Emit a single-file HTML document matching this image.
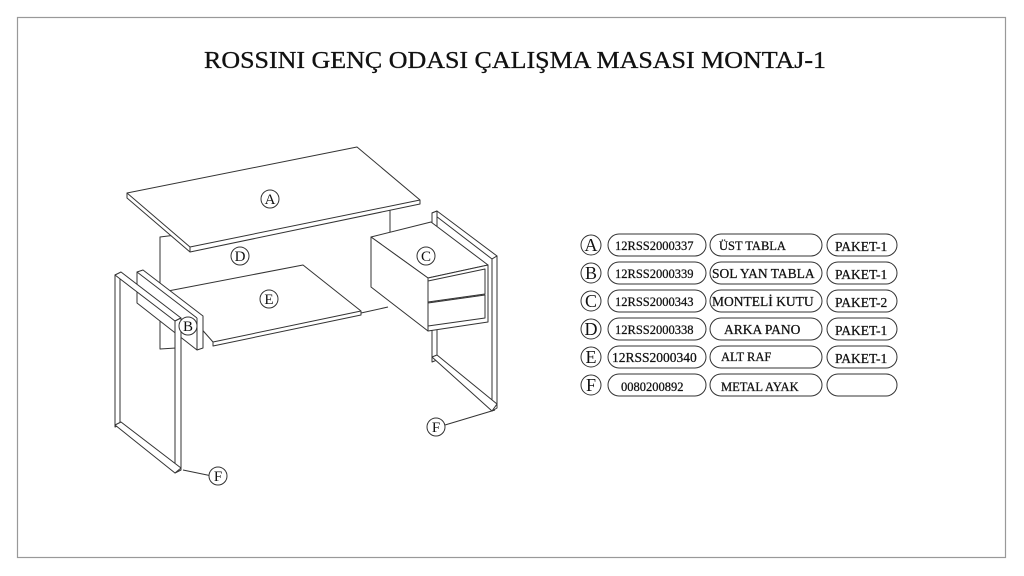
<!DOCTYPE html>
<html><head><meta charset="utf-8"><style>
html,body{margin:0;padding:0;background:#fff;width:1024px;height:576px;overflow:hidden}
svg{display:block}
text{font-family:"Liberation Serif",serif;fill:#111}
</style></head><body>
<svg width="1024" height="576" viewBox="0 0 1024 576" xmlns="http://www.w3.org/2000/svg">
<rect x="17.5" y="17.5" width="988" height="540" fill="#fff" stroke="#999" stroke-width="1.2"/>
<text x="204" y="68" font-size="24" textLength="622" lengthAdjust="spacingAndGlyphs" stroke="#111" stroke-width="0.3">ROSSINI GENÇ ODASI ÇALIŞMA MASASI MONTAJ-1</text>

<g fill="#fff" stroke="#333" stroke-width="1" stroke-linejoin="round">
<!-- D back panel (mostly hidden) -->
<polyline points="176,348 160,349 160,237 200,232" fill="none"/>
<line x1="390" y1="232" x2="390" y2="207"/>
<!-- left leg back -->
<polygon points="115,275 120,273 120,425 115,427"/>
<!-- E shelf -->
<polygon points="168,291 303,265 361,311 361,315 213,346 213,342"/>
<line x1="213" y1="342" x2="361" y2="311"/>
<!-- B side panel -->
<polygon points="137,272 143,270 203,316 203,348 197,350 137,303"/>
<line x1="197" y1="318" x2="197" y2="350"/>
<line x1="137" y1="272" x2="197" y2="318"/>
<!-- left leg frame -->
<polygon points="115,275 121,272 181,318 175,321"/>
<polygon points="175,321 181,318 181,470 175,473"/>
<polygon points="115,425 121,422 181,468 175,473"/>
<!-- A top -->
<polygon points="127,193 357,147 420,200 420,204 190,252 127,198"/>
<line x1="127" y1="193" x2="190" y2="247"/>
<line x1="190" y1="247" x2="420" y2="200"/>
<line x1="190" y1="247" x2="190" y2="252"/>
<!-- right leg -->
<polygon points="432,213 437,211 497,256 492,259"/>
<polygon points="432,213 437,211 437,360 432,362"/>
<polygon points="492,259 497,256 497,408 492,411"/>
<polygon points="432,357 437,355 497,404 492,411"/>
<!-- C box -->
<polygon points="371,237 431,222 488,265 428,278"/>
<polygon points="371,237 428,278 428,331 371,287"/>
<polygon points="428,278 488,265 488,322 428,331"/>
<polygon points="428,281 485,269 485,294 428,302"/>
<polygon points="428,303 485,295 485,318 428,326"/>
</g>
<line x1="361" y1="313" x2="388" y2="307" stroke="#333"/>
<line x1="183" y1="470" x2="212" y2="476" stroke="#333"/>
<line x1="495" y1="410" x2="445" y2="425" stroke="#333"/>

<g fill="#fff" stroke="#333" stroke-width="1">
<circle cx="270" cy="199" r="9"/><circle cx="240" cy="256" r="9"/>
<circle cx="426" cy="256" r="9"/><circle cx="269" cy="299" r="9"/>
<circle cx="188" cy="326" r="9"/><circle cx="436" cy="427" r="9"/>
<circle cx="218" cy="476" r="9"/>
</g>
<g font-size="15" text-anchor="middle">
<text x="270" y="204">A</text><text x="240" y="261">D</text><text x="426" y="261">C</text>
<text x="269" y="304">E</text><text x="188" y="331">B</text><text x="436" y="432">F</text><text x="218" y="481">F</text>
</g>

<g fill="#fff" stroke="#333" stroke-width="1">
<circle cx="591" cy="245" r="10"/><circle cx="591" cy="273" r="10"/><circle cx="591" cy="301" r="10"/>
<circle cx="591" cy="329" r="10"/><circle cx="591" cy="357" r="10"/><circle cx="591" cy="385" r="10"/>
<rect x="608" y="234" width="98" height="22" rx="11"/><rect x="710" y="234" width="112" height="22" rx="11"/><rect x="827" y="234" width="70" height="22" rx="11"/>
<rect x="608" y="262" width="98" height="22" rx="11"/><rect x="710" y="262" width="112" height="22" rx="11"/><rect x="827" y="262" width="70" height="22" rx="11"/>
<rect x="608" y="290" width="98" height="22" rx="11"/><rect x="710" y="290" width="112" height="22" rx="11"/><rect x="827" y="290" width="70" height="22" rx="11"/>
<rect x="608" y="318" width="98" height="22" rx="11"/><rect x="710" y="318" width="112" height="22" rx="11"/><rect x="827" y="318" width="70" height="22" rx="11"/>
<rect x="608" y="346" width="98" height="22" rx="11"/><rect x="710" y="346" width="112" height="22" rx="11"/><rect x="827" y="346" width="70" height="22" rx="11"/>
<rect x="608" y="374" width="98" height="22" rx="11"/><rect x="710" y="374" width="112" height="22" rx="11"/><rect x="827" y="374" width="70" height="22" rx="11"/>
</g>
<g font-size="18" text-anchor="middle">
<text x="591" y="251">A</text><text x="591" y="279">B</text><text x="591" y="307">C</text>
<text x="591" y="335">D</text><text x="591" y="363">E</text><text x="591" y="391">F</text>
</g>
<g font-size="12.5" stroke="#111" stroke-width="0.25">
<text x="615" y="250">12RSS2000337</text><text x="719" y="250">ÜST TABLA</text><text x="835" y="251" font-size="13.5">PAKET-1</text>
<text x="615" y="278">12RSS2000339</text><text x="712" y="278" font-size="13.5">SOL YAN TABLA</text><text x="835" y="279" font-size="13.5">PAKET-1</text>
<text x="615" y="306">12RSS2000343</text><text x="712" y="306" font-size="13.5">MONTELİ KUTU</text><text x="835" y="307" font-size="13.5">PAKET-2</text>
<text x="615" y="334">12RSS2000338</text><text x="724" y="334" font-size="13.5">ARKA PANO</text><text x="835" y="335" font-size="13.5">PAKET-1</text>
<text x="612" y="362" font-size="13.5">12RSS2000340</text><text x="721" y="361">ALT RAF</text><text x="835" y="363" font-size="13.5">PAKET-1</text>
<text x="621" y="391">0080200892</text><text x="721" y="391">METAL AYAK</text>
</g>
</svg>
</body></html>
